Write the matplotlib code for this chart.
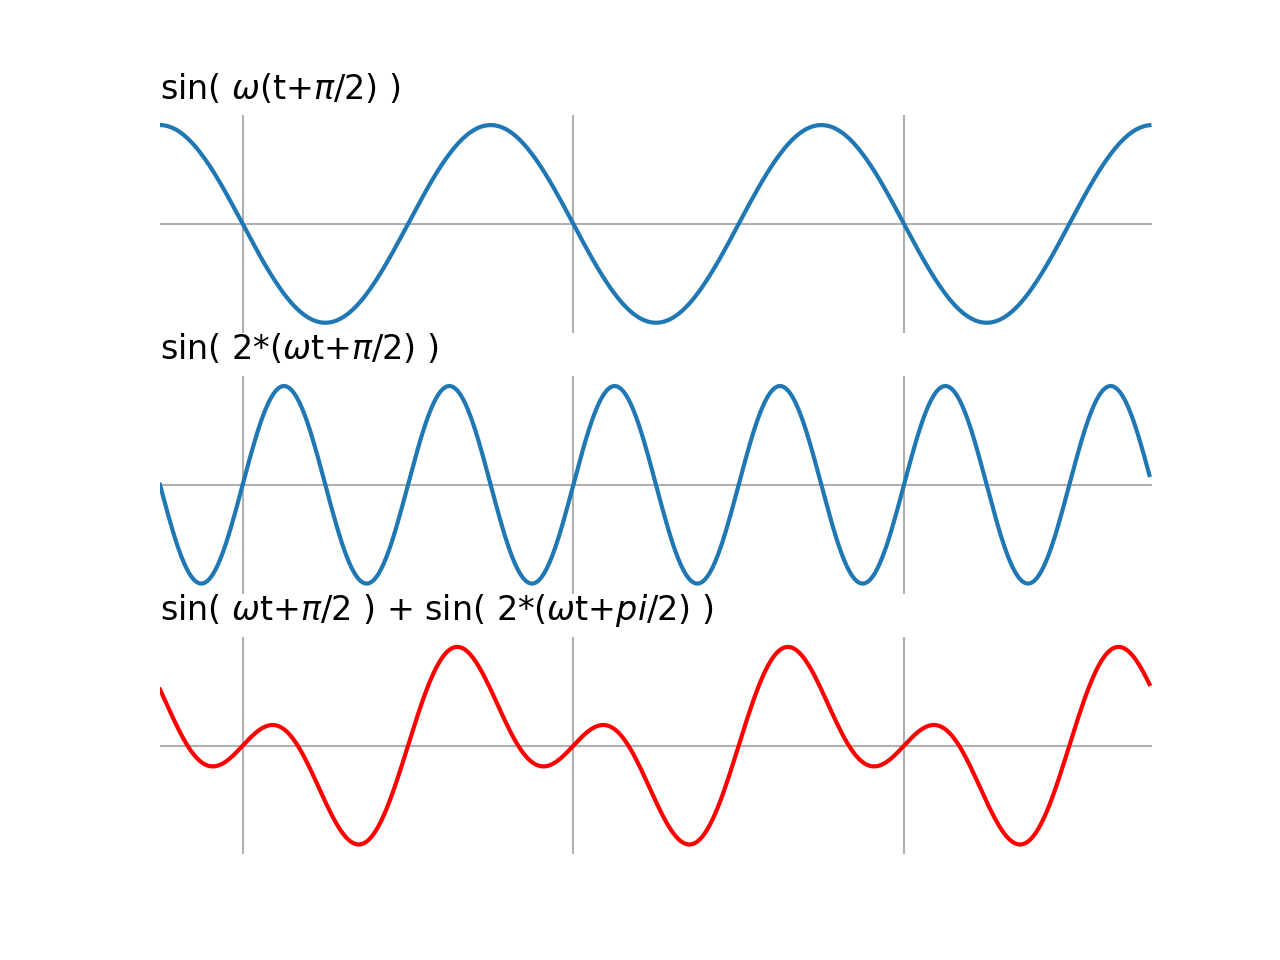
import numpy as np
import matplotlib
matplotlib.use("Agg")
import matplotlib.pyplot as plt

# Data
omega = 1.0
phase = np.pi / 2
t = np.arange(0, 6 * np.pi, 0.05)
y_top = np.sin(omega * (t + phase))
y_mid = np.sin(2 * (omega * t + phase))
y_bot = np.sin(omega * t + phase) + np.sin(2 * (omega * t + phase))

titles = [r"sin( $\omega$(t+$\pi$/2) )",
          r"sin( 2*($\omega$t+$\pi$/2) )",
          r"sin( $\omega$t+$\pi$/2 ) + sin( 2*($\omega$t+$pi$/2) )"]
series = [y_top, y_mid, y_bot]
colors = ["#1f77b4", "#1f77b4", "red"]
xgrid = [np.pi / 2, 5 * np.pi / 2, 9 * np.pi / 2]

fig, axes = plt.subplots(3, 1, figsize=(12.8, 9.6), dpi=100)
for ax, y, title, c in zip(axes, series, titles, colors):
    ax.plot(t, y, color=c, lw=3)
    ax.set_xlim(0, 6 * np.pi)
    ax.set_xticks(xgrid)
    ax.set_yticks([0])
    ax.tick_params(length=0, labelbottom=False, labelleft=False)
    ax.grid(True, color="#b0b0b0", lw=1.5)
    for s in ax.spines.values():
        s.set_visible(False)
    ax.set_title(title, loc="left", fontsize=24, pad=12)

fig.savefig("out.png", dpi=100)
